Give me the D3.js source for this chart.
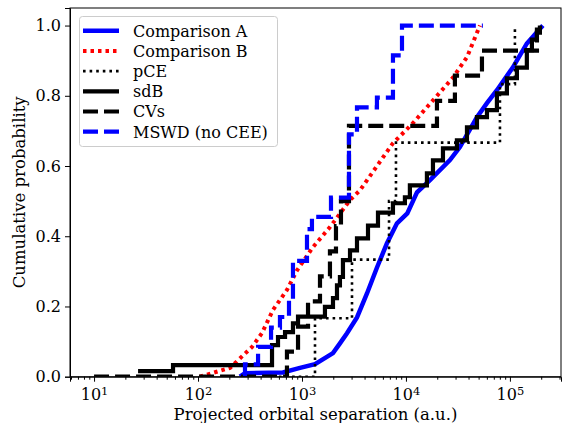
<!DOCTYPE html>
<html>
<head>
<meta charset="utf-8">
<script src="https://d3js.org/d3.v7.min.js"></script>
<style>
  body { margin: 0; background: #fff; }
  text { font-family: "DejaVu Serif", serif; fill: #000; }
</style>
</head>
<body>
<div class="chart"></div>
<script>
// values: x = projected separation (a.u.), y = cumulative probability
var legendLabels = ["Comparison A", "Comparison B", "pCE", "sdB", "CVs", "MSWD (no CEE)"];
var xTickValues = [10, 100, 1000, 10000, 100000];
var xTickExps = ["1", "2", "3", "4", "5"];
var yTickValues = [0, 0.2, 0.4, 0.6, 0.8, 1.0];

// smooth-looking comparison curves
var compA = [[253, 0], [283, 0.01], [656, 0.012], [957, 0.025], [1334, 0.036], [1986, 0.067],
  [2318, 0.095], [2710, 0.124], [3381, 0.169], [4219, 0.237], [5265, 0.311], [6569, 0.38],
  [8195, 0.437], [10300, 0.465], [12770, 0.525], [17020, 0.56], [26490, 0.617], [33040, 0.654],
  [48190, 0.739], [60120, 0.779], [74990, 0.816], [106900, 0.881], [145500, 0.949], [207500, 1.0]];
var compB = [[104, 0], [139, 0.011], [203, 0.025], [331, 0.085], [412, 0.124], [526, 0.19],
  [717, 0.247], [896, 0.303], [1276, 0.369], [1859, 0.426], [2894, 0.503], [3616, 0.531],
  [7499, 0.665], [11660, 0.722], [18200, 0.787], [28330, 0.852], [38600, 0.91], [51500, 1.0]];

// step curves: [x, level reached at x]
var pCE = [[600, 0], [1334, 1 / 6], [3027, 2 / 6], [6874, 3 / 6], [8017, 4 / 6], [80200, 5 / 6], [111700, 1.0]];
var sdB = [[26.5, 0.016], [57.5, 0.033], [515, 0.09], [588, 0.113], [687, 0.127], [819, 0.152],
  [916, 0.171], [1663, 0.199], [1987, 0.224], [2171, 0.26], [2318, 0.284], [2478, 0.332],
  [2897, 0.36], [3381, 0.394], [4315, 0.43], [5383, 0.467], [7500, 0.494], [9772, 0.511],
  [10910, 0.545], [15910, 0.579], [18190, 0.616], [22700, 0.65], [30920, 0.673], [38630, 0.71],
  [48200, 0.739], [60140, 0.759], [74990, 0.807], [93540, 0.85], [116700, 0.88], [145500, 0.93],
  [162800, 0.96], [181900, 0.98], [194300, 1.0]];
var cvs = [[10, 0], [717, 1 / 14], [916, 2 / 14], [1143, 3 / 14], [1490, 4 / 14], [1858, 5 / 14],
  [2123, 6 / 14], [2371, 7 / 14], [2831, 10 / 14], [19870, 11 / 14], [29580, 12 / 14],
  [53830, 13 / 14], [181970, 1.0]];
var mswd = [[283, 0], [283, 0.035], [378, 0.085], [504, 0.14], [614, 0.17], [750, 0.22], [819, 0.33],
  [1117, 0.42], [1247, 0.455], [1901, 0.51], [2831, 0.69], [3381, 0.767], [5260, 0.795],
  [7500, 0.915], [9160, 1.0], [54950, 1.0]];

var svgWidth = 562;
var svgHeight = 423;

var margin = { top: 8, bottom: 46.3, left: 70, right: 1 };
var width = svgWidth - margin.left - margin.right;
var height = svgHeight - margin.top - margin.bottom;

var svg = d3.select(".chart")
  .append("svg")
  .attr("width", svgWidth)
  .attr("height", svgHeight);

var chartGroup = svg.append("g")
  .attr("transform", `translate(${margin.left}, ${margin.top})`);

// scales
var xLogScale = d3.scaleLog()
  .domain([5.87, 310000])
  .range([0, width]);

var yLinearScale = d3.scaleLinear()
  .domain([0, 1.05])
  .range([height, 0]);

// clip lines to the axes box like matplotlib does
chartGroup.append("clipPath")
  .attr("id", "plotClip")
  .append("rect")
  .attr("width", width)
  .attr("height", height);

var plotArea = chartGroup.append("g").attr("clip-path", "url(#plotClip)");

var smoothLine = d3.line()
  .x(d => xLogScale(d[0]))
  .y(d => yLinearScale(d[1]));

var stepLine = d3.line()
  .x(d => xLogScale(d[0]))
  .y(d => yLinearScale(d[1]))
  .curve(d3.curveStepAfter);

var seriesStyles = [
  { data: compA, line: smoothLine, color: "#0000ff", width: 4.5, dash: null },
  { data: compB, line: smoothLine, color: "#ff0000", width: 4, dash: "3.5,4" },
  { data: pCE, line: stepLine, color: "#000", width: 2.6, dash: "2.6,4" },
  { data: sdB, line: stepLine, color: "#000", width: 4.2, dash: null },
  { data: cvs, line: stepLine, color: "#000", width: 4.2, dash: "15,6" },
  { data: mswd, line: stepLine, color: "#0000ff", width: 4.2, dash: "15,6" }
];

seriesStyles.forEach(function(s) {
  plotArea.append("path")
    .datum(s.data)
    .attr("d", s.line)
    .attr("fill", "none")
    .attr("stroke", s.color)
    .attr("stroke-width", s.width)
    .attr("stroke-dasharray", s.dash);
});

// axes
var minorTicks = [];
[1, 10, 100, 1000, 10000, 100000].forEach(function(dec) {
  for (var m = 2; m <= 9; m++) {
    var v = m * dec;
    if (v > 5.87 && v < 310000) minorTicks.push(v);
  }
});

var xAxis = d3.axisBottom(xLogScale)
  .tickValues(xTickValues)
  .tickSize(5)
  .tickPadding(5)
  .tickFormat("");

var xMinor = d3.axisBottom(xLogScale)
  .tickValues(minorTicks)
  .tickSize(3)
  .tickFormat("");

var yAxis = d3.axisLeft(yLinearScale)
  .tickValues(yTickValues)
  .tickSize(5)
  .tickPadding(4)
  .tickFormat(d3.format(".1f"));

var xAxisGroup = chartGroup.append("g")
  .attr("transform", `translate(0, ${height})`)
  .call(xAxis);

chartGroup.append("g")
  .attr("transform", `translate(0, ${height})`)
  .call(xMinor)
  .select(".domain").remove();

var yAxisGroup = chartGroup.append("g")
  .call(yAxis);

yAxisGroup.selectAll("text")
  .attr("font-size", "16px")
  .attr("font-family", "DejaVu Serif");

// power-of-ten labels
xAxisGroup.selectAll(".tick").each(function(d, i) {
  var t = d3.select(this).append("text")
    .attr("y", 23)
    .attr("text-anchor", "middle")
    .attr("font-size", "16px")
    .attr("font-family", "DejaVu Serif")
    .attr("fill", "#000");
  t.append("tspan").text("10");
  t.append("tspan")
    .attr("dy", "-0.45em")
    .attr("font-size", "11.5px")
    .text(xTickExps[i]);
});

chartGroup.selectAll(".domain").attr("stroke", "#000");
chartGroup.selectAll(".tick line").attr("stroke", "#000");

// box frame
chartGroup.append("rect")
  .attr("width", width)
  .attr("height", height)
  .attr("fill", "none")
  .attr("stroke", "#000")
  .attr("stroke-width", 1);

// axis labels
svg.append("text")
  .attr("x", margin.left + width / 2)
  .attr("y", 420)
  .attr("text-anchor", "middle")
  .attr("font-size", "16.5px")
  .text("Projected orbital separation (a.u.)");

svg.append("text")
  .attr("transform", `translate(25, ${margin.top + height / 2}) rotate(-90)`)
  .attr("text-anchor", "middle")
  .attr("font-size", "16.5px")
  .text("Cumulative probability");

// legend
var legend = svg.append("g");
legend.append("rect")
  .attr("x", 79.5)
  .attr("y", 16.5)
  .attr("width", 198)
  .attr("height", 130)
  .attr("rx", 3)
  .attr("fill", "#fff")
  .attr("fill-opacity", 0.8)
  .attr("stroke", "#cccccc");

seriesStyles.forEach(function(s, i) {
  var cy = 30.7 + i * 20.2;
  legend.append("line")
    .attr("x1", 83)
    .attr("x2", 119)
    .attr("y1", cy)
    .attr("y2", cy)
    .attr("stroke", s.color)
    .attr("stroke-width", s.width)
    .attr("stroke-dasharray", s.dash);
  legend.append("text")
    .attr("x", 133)
    .attr("y", cy + 5.8)
    .attr("font-size", "16px")
    .text(legendLabels[i]);
});
</script>
</body>
</html>
